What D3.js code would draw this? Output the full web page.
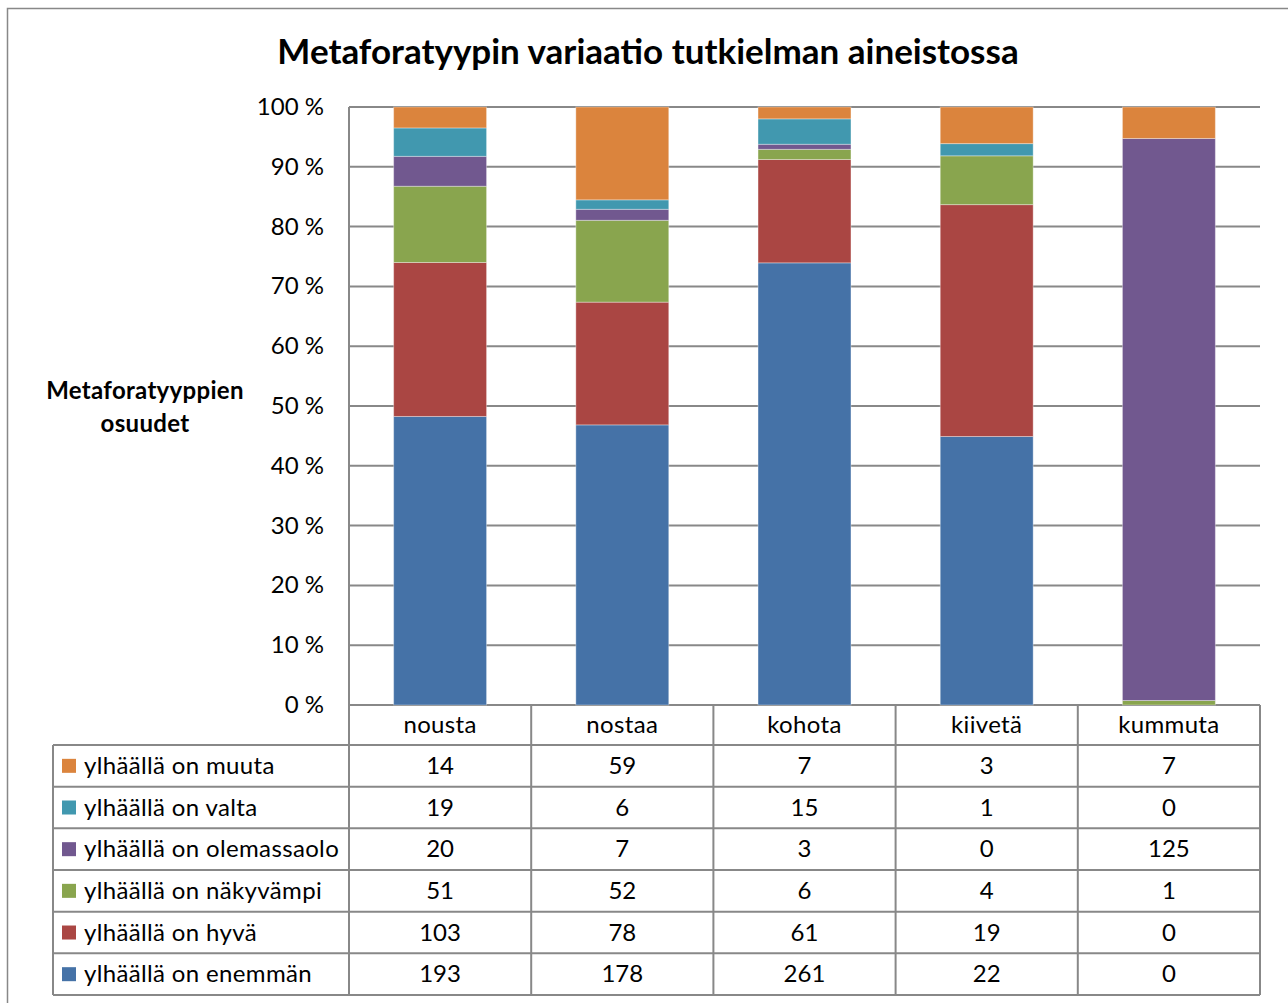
<!DOCTYPE html>
<html lang="fi">
<head>
<meta charset="UTF-8">
<title>Metaforatyypin variaatio tutkielman aineistossa</title>
<script src="https://d3js.org/d3.v7.min.js"></script>
<style>
  body { margin: 0; background: #fff; }
  svg { font-family: Lato, "Open Sans", sans-serif; }
</style>
</head>
<body>
<script>
// data
const categories = ["nousta", "nostaa", "kohota", "kiivetä", "kummuta"];
const seriesNames = [
  "ylhäällä on enemmän",
  "ylhäällä on hyvä",
  "ylhäällä on näkyvämpi",
  "ylhäällä on olemassaolo",
  "ylhäällä on valta",
  "ylhäällä on muuta"
];
const enemman = [193, 178, 261, 22, 0];
const hyva = [103, 78, 61, 19, 0];
const nakyvampi = [51, 52, 6, 4, 1];
const olemassaolo = [20, 7, 3, 0, 125];
const valta = [19, 6, 15, 1, 0];
const muuta = [14, 59, 7, 3, 7];
const colors = ["#4572A7", "#AA4643", "#89A54E", "#71588F", "#4198AF", "#DB843D"];
const yTicks = [0, 10, 20, 30, 40, 50, 60, 70, 80, 90, 100];

const values = [enemman, hyva, nakyvampi, olemassaolo, valta, muuta];

const width = 1288, height = 1003;
const svg = d3.select("body").append("svg").attr("width", width).attr("height", height);

// outer frame
svg.append("rect")
  .attr("x", 7.5).attr("y", 8.5).attr("width", 1300).attr("height", 1010)
  .attr("fill", "none").attr("stroke", "#888").attr("stroke-width", 1.5);

// title
svg.append("text")
  .attr("x", 648).attr("y", 64)
  .attr("text-anchor", "middle")
  .attr("font-size", 35).attr("font-weight", "bold")
  .text("Metaforatyypin variaatio tutkielman aineistossa");

const plotLeft = 349, plotRight = 1260, plotTop = 107, plotBottom = 705;
const fs = 24, ls = 0.35;

const x = d3.scaleBand().domain(categories).range([plotLeft, plotRight])
  .paddingInner(0.49).paddingOuter(0.245);
const xCell = d3.scaleBand().domain(categories).range([plotLeft, plotRight]);
const y = d3.scaleLinear().domain([0, 100]).range([plotBottom, plotTop]);

// gridlines
svg.append("g").selectAll("line").data(yTicks).join("line")
  .attr("x1", plotLeft).attr("x2", plotRight)
  .attr("y1", d => y(d)).attr("y2", d => y(d))
  .attr("stroke", "#888").attr("stroke-width", 2);

// y axis line
svg.append("line")
  .attr("x1", plotLeft).attr("x2", plotLeft).attr("y1", plotTop).attr("y2", plotBottom)
  .attr("stroke", "#888").attr("stroke-width", 2);

// y tick labels
svg.append("g").selectAll("text").data(yTicks).join("text")
  .attr("x", 324).attr("y", d => y(d) + 8)
  .attr("text-anchor", "end")
  .attr("font-size", fs)
  .text(d => d + " %");

// axis title
const at = svg.append("text").attr("text-anchor", "middle")
  .attr("font-size", fs).attr("font-weight", "bold").attr("letter-spacing", 0.3);
at.append("tspan").attr("x", 145).attr("y", 399).text("Metaforatyyppien");
at.append("tspan").attr("x", 145).attr("y", 432).text("osuudet");

// stacked percentages
const rows = categories.map((c, i) => {
  const r = { cat: c };
  seriesNames.forEach((s, j) => r[s] = values[j][i]);
  return r;
});
const stacked = d3.stack().keys(seriesNames).offset(d3.stackOffsetExpand)(rows);

svg.append("g").selectAll("g").data(stacked).join("g")
  .attr("fill", (d, i) => colors[i])
  .selectAll("rect").data(d => d).join("rect")
  .attr("x", d => x(d.data.cat))
  .attr("width", x.bandwidth())
  .attr("y", d => y(d[1] * 100))
  .attr("height", d => y(d[0] * 100) - y(d[1] * 100))
  .attr("stroke", "rgba(255,255,255,0.35)")
  .attr("stroke-width", d => (d[1] - d[0]) > 0 ? 1 : 0);

// data table
const headerBottom = 745, rowH = 41.67, tableLeft = 53;
const nRows = seriesNames.length;
const tableBottom = headerBottom + rowH * nRows;
const tbl = svg.append("g");

// header labels
tbl.selectAll("text.cat").data(categories).join("text")
  .attr("class", "cat")
  .attr("x", d => xCell(d) + xCell.bandwidth() / 2)
  .attr("y", 733)
  .attr("text-anchor", "middle")
  .attr("font-size", fs).attr("letter-spacing", ls)
  .text(d => d);

// vertical lines
const vx = categories.map(c => xCell(c)).concat([plotRight]);
tbl.selectAll("line.v").data(vx).join("line")
  .attr("class", "v")
  .attr("x1", d => d).attr("x2", d => d)
  .attr("y1", plotBottom).attr("y2", tableBottom)
  .attr("stroke", "#888").attr("stroke-width", 2);
tbl.append("line")
  .attr("x1", tableLeft).attr("x2", tableLeft)
  .attr("y1", headerBottom).attr("y2", tableBottom)
  .attr("stroke", "#888").attr("stroke-width", 2);

// horizontal lines
const hy = d3.range(nRows + 1).map(i => headerBottom + i * rowH);
tbl.selectAll("line.h").data(hy).join("line")
  .attr("class", "h")
  .attr("x1", tableLeft).attr("x2", plotRight)
  .attr("y1", d => d).attr("y2", d => d)
  .attr("stroke", "#888").attr("stroke-width", 2);

// rows, top = last series
const order = d3.range(nRows).reverse();
order.forEach((si, r) => {
  const cy = headerBottom + r * rowH + rowH / 2;
  tbl.append("rect")
    .attr("x", 62).attr("y", cy - 7).attr("width", 14).attr("height", 14)
    .attr("fill", colors[si]);
  tbl.append("text")
    .attr("x", 84).attr("y", cy + 8)
    .attr("font-size", fs).attr("letter-spacing", ls)
    .text(seriesNames[si]);
  tbl.append("g").selectAll("text").data(values[si]).join("text")
    .attr("x", (d, i) => xCell(categories[i]) + xCell.bandwidth() / 2)
    .attr("y", cy + 8)
    .attr("text-anchor", "middle")
    .attr("font-size", fs)
    .text(d => d);
});
</script>
</body>
</html>
